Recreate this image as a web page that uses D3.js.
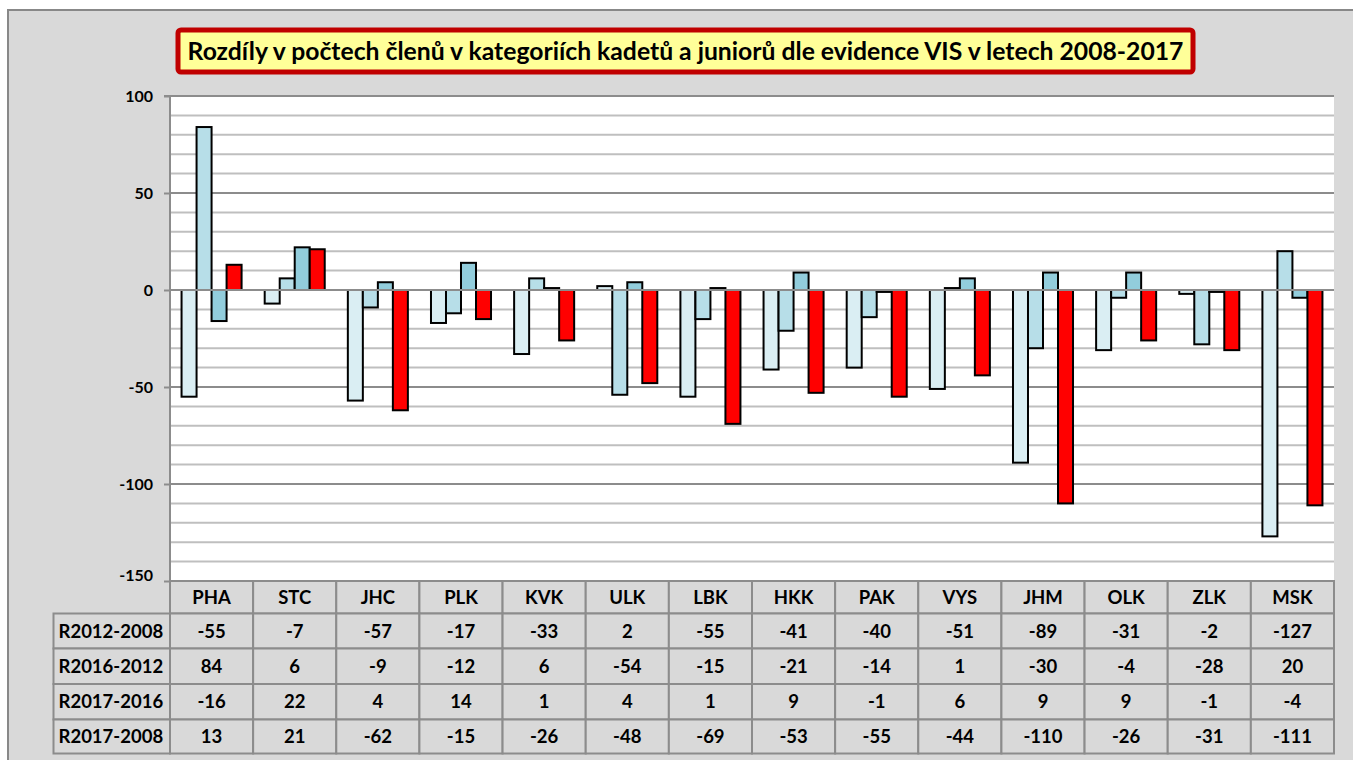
<!DOCTYPE html>
<html><head><meta charset="utf-8">
<script src="https://cdn.jsdelivr.net/npm/d3@7/dist/d3.min.js"></script>
<style>html,body{margin:0;padding:0;background:#fff;}svg{display:block;}</style>
</head><body>
<svg id="c" width="1353" height="760"></svg>
<script>
const categories = ["PHA","STC","JHC","PLK","KVK","ULK","LBK","HKK","PAK","VYS","JHM","OLK","ZLK","MSK"];
const seriesNames = ["R2012-2008","R2016-2012","R2017-2016","R2017-2008"];
const r2012_2008 = [-55,-7,-57,-17,-33,2,-55,-41,-40,-51,-89,-31,-2,-127];
const r2016_2012 = [84,6,-9,-12,6,-54,-15,-21,-14,1,-30,-4,-28,20];
const r2017_2016 = [-16,22,4,14,1,4,1,9,-1,6,9,9,-1,-4];
const r2017_2008 = [13,21,-62,-15,-26,-48,-69,-53,-55,-44,-110,-26,-31,-111];
const seriesValues = [r2012_2008, r2016_2012, r2017_2016, r2017_2008];
const seriesColors = ["#daeef3","#b7dee8","#92cddc","#ff0000"];
const yTicks = [100,50,0,-50,-100,-150];
const titleText = "Rozdíly v počtech členů v kategoriích kadetů a juniorů dle evidence VIS v letech 2008-2017";

const FONT = "Lato, 'Open Sans', sans-serif";
const svg = d3.select("#c");

// background frame
svg.append("rect").attr("x",8).attr("y",10).attr("width",1360).attr("height",760)
  .attr("fill","#d9d9d9").attr("stroke","#888").attr("stroke-width",2);

const L=170, R=1334, T=96, B=581;
const y = d3.scaleLinear().domain([-150,100]).range([B,T]);
const x0 = d3.scaleBand().domain(categories).range([L,R]).paddingInner(0).paddingOuter(0);
const x1 = d3.scaleBand().domain(d3.range(4)).range([0,x0.bandwidth()]).paddingInner(0).paddingOuter(0.77);

// plot area
svg.append("rect").attr("x",L).attr("y",T).attr("width",R-L).attr("height",B-T).attr("fill","#fff");

// gridlines
const minor = d3.range(-150,101,10);
svg.append("g").selectAll("line").data(minor).join("line")
  .attr("x1",L).attr("x2",R).attr("y1",d=>y(d)).attr("y2",d=>y(d))
  .attr("stroke",d=>d%50===0?"#8c8c8c":"#bfbfbf").attr("stroke-width",2);

// y axis
const yAxis = d3.axisLeft(y).tickValues(yTicks).tickSize(6).tickPadding(11).tickFormat(d=>String(d));
const ga = svg.append("g").attr("transform",`translate(${L},0)`).call(yAxis);
ga.select(".domain").attr("stroke","#8c8c8c").attr("stroke-width",2).attr("d",`M-6,${T}H0V${B}`);
ga.selectAll(".tick line").attr("stroke","#8c8c8c").attr("stroke-width",2);
ga.selectAll(".tick text").attr("font-family",FONT).attr("font-weight","bold").attr("font-size",16).attr("fill","#000");
ga.selectAll(".tick").filter(d=>d===-150).select("text").attr("dy","-0.05em");

// bars
const groups = svg.append("g").selectAll("g").data(categories).join("g")
  .attr("transform",d=>`translate(${x0(d)},0)`);
groups.selectAll("rect").data((c,i)=>seriesValues.map((s,k)=>({k,v:s[i]}))).join("rect")
  .attr("x",d=>x1(d.k)).attr("width",x1.bandwidth())
  .attr("y",d=>y(Math.max(0,d.v))).attr("height",d=>Math.abs(y(d.v)-y(0)))
  .attr("fill",d=>seriesColors[d.k]).attr("stroke","#000").attr("stroke-width",2);

// zero axis line drawn over bars
svg.append("line").attr("x1",L).attr("x2",R).attr("y1",y(0)).attr("y2",y(0))
  .attr("stroke","#8c8c8c").attr("stroke-width",2);

// data table
const rowH = [B, 613.5, 648.5, 684, 719.5, 753.5];
const TFS = 18.5;
const tbl = svg.append("g");
tbl.selectAll("rect.h").data(categories).join("rect").attr("class","h")
  .attr("x",d=>x0(d)).attr("y",rowH[0]).attr("width",x0.bandwidth()).attr("height",rowH[1]-rowH[0])
  .attr("fill","#d9d9d9").attr("stroke","#8c8c8c").attr("stroke-width",2);
tbl.selectAll("text.h").data(categories).join("text").attr("class","h")
  .attr("x",d=>x0(d)+x0.bandwidth()/2).attr("y",(rowH[0]+rowH[1])/2).attr("dy","0.36em")
  .attr("text-anchor","middle").attr("font-family",FONT).attr("font-weight","bold").attr("font-size",TFS).text(d=>d);
const TL = 53.5;
seriesNames.forEach((name,k)=>{
  const y0=rowH[k+1], y1=rowH[k+2];
  const g = tbl.append("g");
  g.append("rect").attr("x",TL).attr("y",y0).attr("width",L-TL).attr("height",y1-y0)
    .attr("fill","#d9d9d9").attr("stroke","#8c8c8c").attr("stroke-width",2);
  g.append("text").attr("x",TL+5).attr("y",(y0+y1)/2).attr("dy","0.36em")
    .attr("font-family",FONT).attr("font-weight","bold").attr("font-size",TFS).text(name);
  g.selectAll("rect.c").data(categories).join("rect").attr("class","c")
    .attr("x",d=>x0(d)).attr("y",y0).attr("width",x0.bandwidth()).attr("height",y1-y0)
    .attr("fill","#d9d9d9").attr("stroke","#8c8c8c").attr("stroke-width",2);
  g.selectAll("text.c").data(categories).join("text").attr("class","c")
    .attr("x",d=>x0(d)+x0.bandwidth()/2).attr("y",(y0+y1)/2).attr("dy","0.36em")
    .attr("text-anchor","middle").attr("font-family",FONT).attr("font-weight","bold").attr("font-size",TFS)
    .text((d,i)=>seriesValues[k][i]);
});

// title
const tg = svg.append("g");
tg.append("rect").attr("x",178).attr("y",30).attr("width",1015).attr("height",42).attr("rx",3)
  .attr("fill","#ffff99").attr("stroke","#c00000").attr("stroke-width",5);
const tt = tg.append("text").attr("x",685.5).attr("y",51).attr("dy","0.36em").attr("text-anchor","middle")
  .attr("font-family",FONT).attr("font-weight","bold").attr("font-size",20).text(titleText);
const w = tt.node().getComputedTextLength();
tt.attr("font-size", 20*996/w);
</script>
</body></html>
